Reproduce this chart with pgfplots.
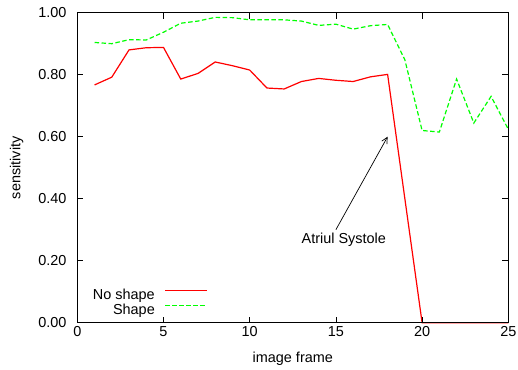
\documentclass[border=0pt]{standalone}
\usepackage{fontspec}
\setmainfont{Liberation Sans}
\usepackage{pgfplots}
\pgfplotsset{compat=1.18}
\usetikzlibrary{arrows.meta}
\definecolor{gpred}{RGB}{255,0,0}
\definecolor{gpgreen}{RGB}{0,255,0}
\newcommand{\gpfont}{\fontsize{14.5}{17}\selectfont}
\begin{document}
\begin{tikzpicture}[font=\gpfont]
\begin{axis}[
  scale only axis,
  width=431bp, height=310bp,
  xmin=0, xmax=25, ymin=0, ymax=1,
  xtick={0,5,10,15,20,25},
  ytick={0,0.2,0.4,0.6,0.8,1.0},
  /pgf/number format/assume math mode=true,
  tick align=inside,
  major tick length=6bp,
  tick style={black, line width=0.8bp},
  axis line style={line width=1.2bp},
  axis on top,
  clip=false,
  tick label style={font=\gpfont},
  yticklabel style={/pgf/number format/fixed, /pgf/number format/fixed zerofill, /pgf/number format/precision=2, inner sep=0pt, anchor=east, xshift=-10.6bp},
  xticklabel style={inner sep=0pt, anchor=north, yshift=-3.3bp},
  xlabel={image frame},
  ylabel={sensitivity},
  x label style={at={(axis description cs:0.5,-0.129)}, anchor=base, inner sep=0pt, font=\gpfont},
  y label style={at={(axis description cs:-0.1406,0.5)}, anchor=center, rotate=0, inner sep=0pt, font=\gpfont},
  legend style={draw=none, fill=none, inner sep=0pt, outer sep=0pt,
    at={(axis cs:7.564,0.1097)}, anchor=north east,
    row sep=0pt, column sep=10bp, font=\gpfont,
    nodes={inner sep=0pt, text height=10.5bp, text depth=4.5bp}},
  legend plot pos=right,
  legend cell align=right,
  legend image code/.code={\draw[#1] (0bp,5.3bp) -- (41.7bp,5.3bp);},
]
\addplot[gpred, line width=1.2bp] coordinates {
(1,0.767) (2,0.792) (3,0.880) (4,0.887) (5,0.888) (6,0.786) (7,0.804)
(8,0.841) (9,0.829) (10,0.815) (11,0.757) (12,0.754) (13,0.778) (14,0.788)
(15,0.782) (16,0.778) (17,0.793) (18,0.801) (19,0.40) (20,0) (21,0)
(22,0) (23,0) (24,0) (25,0)};
\addlegendentry{No shape}
\addplot[gpgreen, line width=1.2bp, dash pattern=on 4.5bp off 2.5bp] coordinates {
(1,0.904) (2,0.900) (3,0.913) (4,0.912) (5,0.937) (6,0.966) (7,0.973)
(8,0.985) (9,0.984) (10,0.977) (11,0.977) (12,0.977) (13,0.973) (14,0.959)
(15,0.963) (16,0.947) (17,0.958) (18,0.962) (19,0.848) (20,0.620) (21,0.615)
(22,0.786) (23,0.644) (24,0.730) (25,0.624)};
\addlegendentry{Shape}
\draw[black, line width=0.7bp, -{Straight Barb[length=6bp, width=6bp]}] (axis cs:15,0.3) -- (axis cs:18,0.6);
\node[anchor=base west, inner sep=0pt, font=\gpfont] at (axis cs:13,0.254) {Atriul Systole};
\end{axis}
\pgfresetboundingbox
\path[use as bounding box] ([shift={(-77.3bp,-47.3bp)}]current axis.south west) rectangle ([shift={(440.7bp,322.7bp)}]current axis.south west);
\end{tikzpicture}
\end{document}
